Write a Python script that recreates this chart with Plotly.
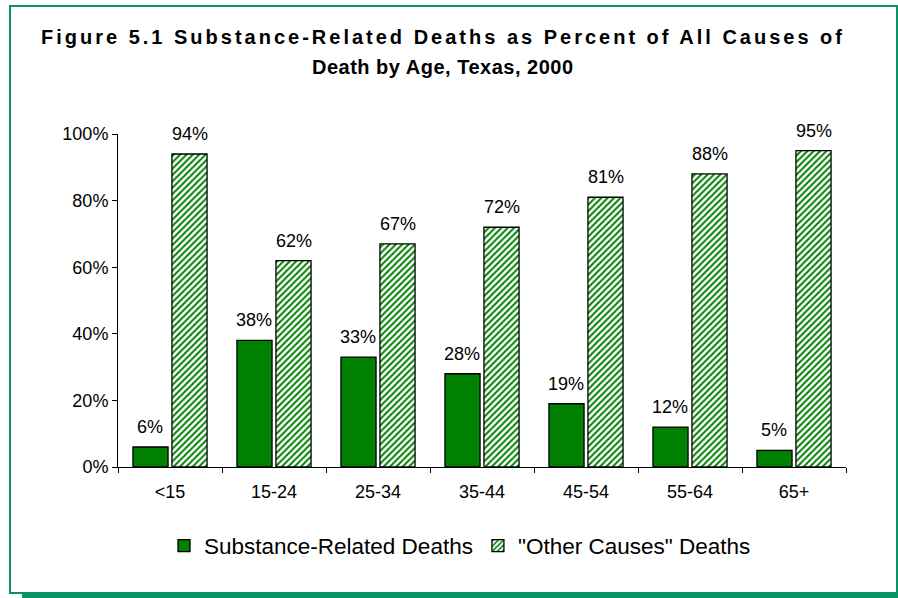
import plotly.graph_objects as go

categories = ["<15", "15-24", "25-34", "35-44", "45-54", "55-64", "65+"]
substance = [6, 38, 33, 28, 19, 12, 5]
other = [94, 62, 67, 72, 81, 88, 95]
series_names = ["Substance-Related Deaths", "\"Other Causes\" Deaths"]
y_ticks = [0, 20, 40, 60, 80, 100]
y_tick_labels = ["0%", "20%", "40%", "60%", "80%", "100%"]
title_lines = ["Figure 5.1 Substance-Related Deaths as Percent of All Causes of",
               "Death by Age, Texas, 2000"]

GREEN = "#008000"
BORDER = "#0A9466"
FONT = "Liberation Sans, Arial, sans-serif"

W, H = 898, 598
ML, MR, MT, MB = 118, 52, 134, 131
PW, PH = W - ML - MR, H - MT - MB

def px(x):
    return (x - ML) / PW

def py(y):
    return (H - MB - y) / PH

fig = go.Figure()
fig.add_trace(go.Bar(
    x=categories, y=substance, name=series_names[0],
    marker=dict(color=GREEN, line=dict(color="black", width=1.3)),
))
fig.add_trace(go.Bar(
    x=categories, y=other, name=series_names[1],
    marker=dict(color="white",
                line=dict(color="black", width=1.3),
                pattern=dict(shape="/", fgcolor=GREEN, bgcolor="white",
                             size=4.5, solidity=0.45, fillmode="replace")),
))

annotations = []
for vals, shift in ((substance, -20), (other, 20)):
    for c, v in zip(categories, vals):
        annotations.append(dict(
            x=c, y=v, xref="x", yref="y", text=f"{v}%", showarrow=False,
            xshift=shift, yshift=20, yanchor="middle", xanchor="center",
            font=dict(family=FONT, size=18, color="black")))

for line, yy, sp in zip(title_lines, (37, 67), (3.0, 0.5)):
    annotations.append(dict(
        x=px(443), y=py(yy), xref="paper", yref="paper",
        text=f"<b><span style=\"letter-spacing:{sp}px\">{line}</span></b>",
        showarrow=False, xanchor="center", yanchor="middle",
        font=dict(family=FONT, size=20, color="black")))

shapes = [
    dict(type="rect", xref="paper", yref="paper",
         x0=px(10), x1=px(897), y0=py(593), y1=py(6),
         line=dict(color=BORDER, width=2), fillcolor="rgba(0,0,0,0)", layer="below"),
    dict(type="line", xref="paper", yref="paper",
         x0=px(22), x1=px(898), y0=py(595.5), y1=py(595.5),
         line=dict(color=BORDER, width=5)),
]

fig.update_layout(
    width=W, height=H,
    margin=dict(l=ML, r=MR, t=MT, b=MB),
    paper_bgcolor="white", plot_bgcolor="white",
    barmode="group", bargap=0.25, bargroupgap=0.1,
    font=dict(family=FONT, size=18, color="black"),
    showlegend=True,
    legend=dict(orientation="h", x=px(460), xanchor="center",
                y=py(546), yanchor="middle",
                font=dict(family=FONT, size=22.5, color="black"),
                itemwidth=30, tracegroupgap=0, bgcolor="rgba(0,0,0,0)"),
    annotations=annotations,
    shapes=shapes,
)
fig.update_xaxes(
    type="category", showline=True, linecolor="black", linewidth=1,
    ticks="outside", tickson="boundaries", ticklen=5, tickcolor="black",
    showgrid=False, tickfont=dict(family=FONT, size=18, color="black"),
    ticklabelstandoff=8,
)
fig.update_yaxes(
    range=[0, 100], tickmode="array", tickvals=y_ticks, ticktext=y_tick_labels,
    showline=True, linecolor="black", linewidth=1,
    ticks="outside", ticklen=5, tickcolor="black",
    showgrid=False, zeroline=False,
    tickfont=dict(family=FONT, size=18, color="black"),
)

fig.write_html("out.html")
